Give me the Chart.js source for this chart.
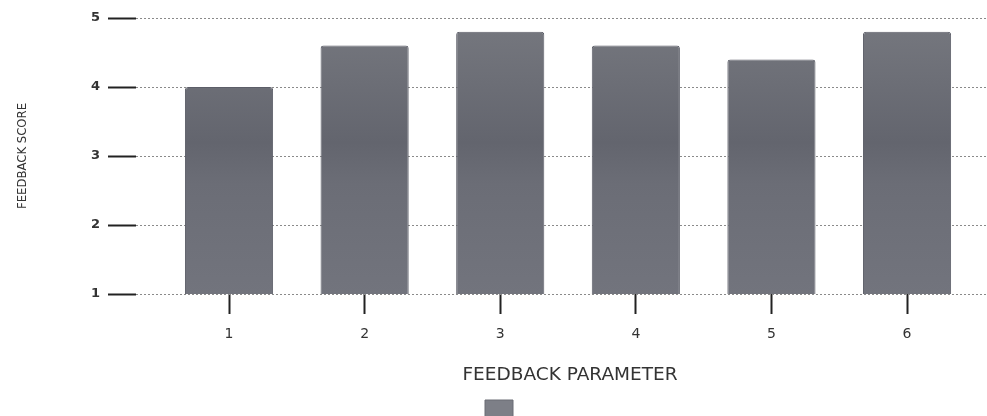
<!DOCTYPE html>
<html>
<head>
<meta charset="utf-8">
<script src="https://cdn.jsdelivr.net/npm/chart.js@4.4.0/dist/chart.umd.min.js"></script>
<style>
  html, body { margin: 0; padding: 0; background: #fff; overflow: hidden; }
  #wrap { width: 987px; height: 416px; overflow: hidden; }
</style>
</head>
<body>
<div id="wrap">
  <canvas id="feedbackChart" width="1014" height="436"></canvas>
</div>
<script>
// valores
const parametros = [1, 2, 3, 4, 5, 6];
const rotulosX = ['1', '2', '3', '4', '5', '6'];
const notas = [4.0, 4.6, 4.8, 4.6, 4.4, 4.8];
const ticksY = [1, 2, 3, 4, 5];

function corBarra(context) {
    const area = context.chart.chartArea;
    if (!area) {
        return '#6c6e78';
    }
    const g = context.chart.ctx.createLinearGradient(0, area.top, 0, area.bottom);
    g.addColorStop(0, '#76787f');
    g.addColorStop(0.45, '#63656e');
    g.addColorStop(0.6, '#6b6d76');
    g.addColorStop(1, '#72747d');
    return g;
}

const dadosFeedback = {
    datasets: [{
        label: '',
        data: parametros.map((p, i) => ({ x: p, y: notas[i] })),
        backgroundColor: corBarra,
        borderColor: '#5c5e68',
        borderWidth: 1,
        borderRadius: 3,
        borderSkipped: 'bottom',
        categoryPercentage: 1,
        barPercentage: 0.65
    }]
};

const configFeedback = {
    type: 'bar',
    data: dadosFeedback,
    options: {
        responsive: false,
        animation: false,
        layout: {
            padding: { top: 18, right: 10, bottom: 0, left: 0 }
        },
        plugins: {
            tooltip: { enabled: false },
            legend: {
                position: 'bottom',
                labels: {
                    boxWidth: 28,
                    boxHeight: 26,
                    padding: 10,
                    font: { size: 12 },
                    generateLabels: function (chart) {
                        return [{
                            text: '',
                            fillStyle: '#7d7f87',
                            strokeStyle: '#6a6c74',
                            lineWidth: 1,
                            datasetIndex: 0
                        }];
                    }
                }
            }
        },
        scales: {
            x: {
                type: 'linear',
                min: 0.314,
                max: 6.715,
                offset: false,
                afterBuildTicks: function (scale) {
                    scale.ticks = parametros.map(v => ({ value: v }));
                },
                border: { display: false },
                grid: {
                    offset: false,
                    drawOnChartArea: false,
                    drawTicks: true,
                    tickLength: 20,
                    tickColor: '#222',
                    tickWidth: 2
                },
                ticks: {
                    padding: 12,
                    color: '#333',
                    font: { family: 'DejaVu Sans', size: 14 },
                    callback: function (value) {
                        const i = parametros.indexOf(value);
                        return i >= 0 ? rotulosX[i] : '';
                    }
                },
                title: {
                    display: true,
                    text: 'FEEDBACK PARAMETER',
                    color: '#333',
                    font: { family: 'DejaVu Sans', size: 18.5 },
                    padding: { top: 9, bottom: 4 }
                }
            },
            y: {
                min: 1,
                max: 5,
                afterBuildTicks: function (scale) {
                    scale.ticks = ticksY.map(v => ({ value: v }));
                },
                afterFit: function (scale) {
                    scale.width = 136;
                },
                border: { display: false, dash: [2, 2] },
                grid: {
                    color: '#8a8a8a',
                    lineWidth: 1,
                    tickLength: 28,
                    tickColor: '#222',
                    tickWidth: 2,
                    tickBorderDash: []
                },
                ticks: {
                    padding: 8,
                    color: '#333',
                    font: { family: 'DejaVu Sans', size: 13, weight: 'bold' }
                },
                title: {
                    display: true,
                    text: 'FEEDBACK SCORE',
                    color: '#333',
                    font: { family: 'Liberation Sans Narrow, DejaVu Sans Condensed', size: 13 },
                    padding: { top: 15, bottom: 0 }
                }
            }
        }
    }
};

const feedbackChart = new Chart(document.getElementById('feedbackChart'), configFeedback);
</script>
</body>
</html>
